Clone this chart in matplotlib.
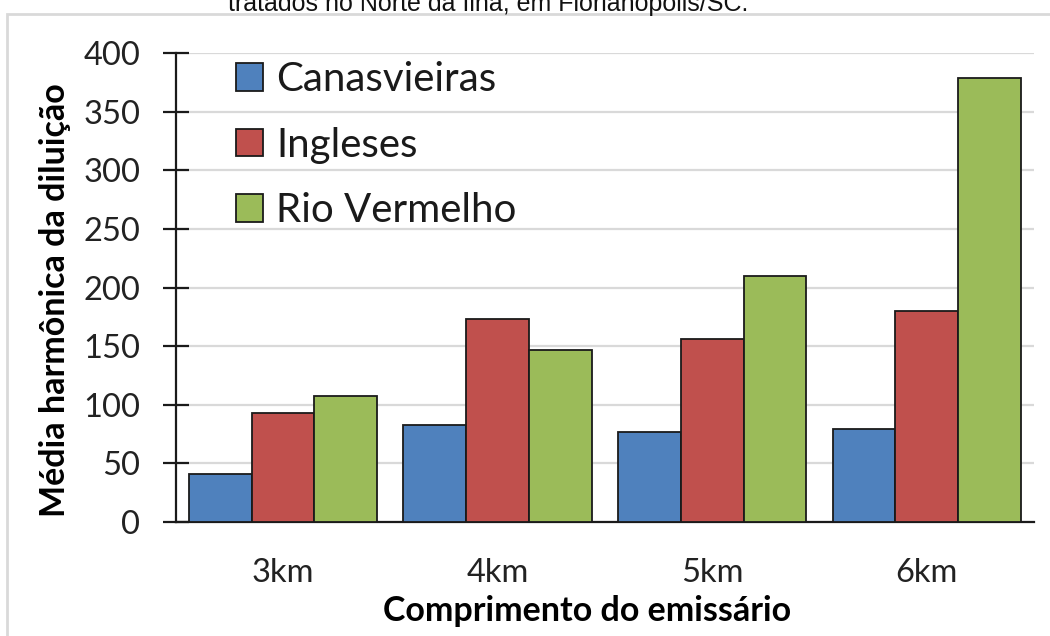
import numpy as np
import matplotlib.pyplot as plt
from matplotlib.patches import Rectangle

# comprimento do emissário x média harmônica da diluição
categorias = ["3km", "4km", "5km", "6km"]
canasvieiras = [41, 83, 77, 79]
ingleses = [93, 173, 156, 180]
rio_vermelho = [107, 147, 210, 379]
series = ["Canasvieiras", "Ingleses", "Rio Vermelho"]
cores = ["#4F81BD", "#C0504D", "#9BBB59"]

plt.rcParams['font.family'] = ['Lato', 'DejaVu Sans']

W, H = 1050, 636
fig = plt.figure(figsize=(W / 100, H / 100), dpi=100)
ax = fig.add_axes([175.7 / W, 1 - 521.7 / H, (1034 - 175.7) / W, (521.7 - 53.3) / H])

x = np.arange(len(categorias))
largura = 0.2925
for i, (nome, vals, cor) in enumerate(zip(series, [canasvieiras, ingleses, rio_vermelho], cores)):
    ax.bar(x + (i - 1) * largura, vals, largura, color=cor, edgecolor='#1a1a1a',
           linewidth=1.3, label=nome, zorder=3)

ax.set_xlim(-0.5, len(categorias) - 0.5)
ax.set_ylim(0, 400)
ax.set_yticks(range(0, 401, 50))
ax.set_xticks(x)
ax.set_xticklabels(categorias)

ax.grid(axis='y', color='#d9d9d9', linewidth=1.6, zorder=0)
ax.set_axisbelow(True)
for s in ['top', 'right']:
    ax.spines[s].set_visible(False)
ax.spines['left'].set_linewidth(1.6)
ax.spines['bottom'].set_linewidth(1.6)
ax.spines['left'].set_color('#1a1a1a')
ax.spines['bottom'].set_color('#1a1a1a')

ax.tick_params(axis='y', direction='inout', length=19, width=1.6, color='#1a1a1a',
               labelsize=23.5, labelcolor='#222222', pad=16)
ax.tick_params(axis='x', length=0, labelsize=23.5, labelcolor='#222222', pad=26)

leg = ax.legend(loc='upper left', bbox_to_anchor=(236 / W, 1 - 61 / H),
                bbox_transform=fig.transFigure, frameon=False, fontsize=29,
                handlelength=0.67, handleheight=0.67, handletextpad=0.33,
                labelspacing=0.71, borderpad=0, borderaxespad=0)
for t in leg.get_texts():
    t.set_color('#1a1a1a')

fig.text(55 / W, 1 - 300 / H, "Média harmônica da diluição", rotation=90,
         ha='center', va='center', fontsize=24.5, fontweight='bold', color='black')
fig.text(587 / W, 1 - 611 / H, "Comprimento do emissário",
         ha='center', va='center', fontsize=24.5, fontweight='bold', color='black')

# moldura do gráfico e legenda do documento acima dela
fig.patches.append(Rectangle((7 / W, -0.05), 1.1, 1.05 - 14 / H, transform=fig.transFigure,
                             fill=False, edgecolor='#d9d9d9', linewidth=2, zorder=0))
fig.text(488 / W, 1 - 11 / H, "tratados no Norte da Ilha, em Florianópolis/SC.",
         ha='center', va='baseline', fontsize=18, family='Liberation Sans', color='#111111')

fig.savefig('out.png', dpi=100)
